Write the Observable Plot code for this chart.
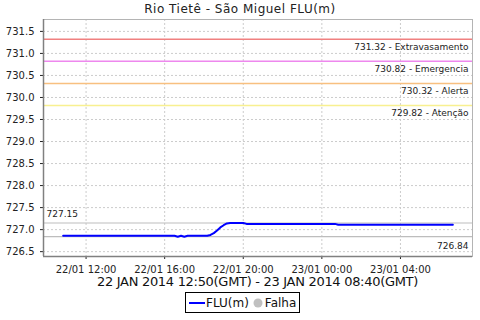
<!DOCTYPE html>
<html><head><meta charset="utf-8">
<script src="https://cdn.jsdelivr.net/npm/d3@7"></script>
<script src="https://cdn.jsdelivr.net/npm/@observablehq/plot@0.6"></script>
<style>
body{margin:0;background:#fff;font-family:"DejaVu Sans",sans-serif;}
#wrap{width:480px;height:320px;position:relative;overflow:hidden;background:#fff}
#title{position:absolute;top:0;left:0;width:480px;text-align:center;font-size:12px;letter-spacing:0.5px;line-height:18px;color:#222}
#chart{position:absolute;top:18px;left:0}
#sub{position:absolute;top:275px;left:43px;width:429px;text-align:center;font-size:13px;letter-spacing:-0.3px;line-height:14px;color:#111}
#legend{position:absolute;top:292px;left:185px;border:1px solid #000;height:19px;padding:0 3px 0 2px;display:flex;align-items:center;font-size:12px;color:#111;background:#fff}
#legend span{margin-right:4px}
</style></head>
<body><div id="wrap">
<div id="title">Rio Tietê - São Miguel FLU(m)</div>
<div id="chart"></div>
<div id="sub">22 JAN 2014 12:50(GMT) - 23 JAN 2014 08:40(GMT)</div>
<div id="legend"><svg width="18" height="10"><line x1="1" x2="17" y1="5" y2="5" stroke="#0000ff" stroke-width="2"/></svg><span>FLU(m)</span><svg width="12" height="10"><circle cx="5" cy="5" r="4.5" fill="#c0c0c0"/></svg><span style="margin-right:0">Falha</span></div>
</div>
<script>
// Data (times in local BRST, shown on the axis)
const times = ["2014-01-22T10:50","2014-01-22T16:30","2014-01-22T16:40","2014-01-22T16:50","2014-01-22T17:00","2014-01-22T17:10","2014-01-22T18:10","2014-01-22T18:20","2014-01-22T18:30","2014-01-22T18:40","2014-01-22T18:50","2014-01-22T19:00","2014-01-22T19:10","2014-01-22T19:20","2014-01-22T20:00","2014-01-22T20:10","2014-01-23T00:40","2014-01-23T00:50","2014-01-23T06:40"];
const levels = [726.86,726.86,726.84,726.86,726.84,726.86,726.86,726.88,726.92,726.98,727.05,727.10,727.14,727.15,727.15,727.13,727.13,727.11,727.11];
const thresholdValues = [731.32, 730.82, 730.32, 729.82];
const thresholdNames = ["Extravasamento","Emergencia","Alerta","Atenção"];
const thresholdColors = ["#f08080","#ee88ee","#f8c080","#f8f090"];
const maxValue = 727.15, minValue = 726.84;
const xTicks = ["2014-01-22T12:00","2014-01-22T16:00","2014-01-22T20:00","2014-01-23T00:00","2014-01-23T04:00"];
const xDomain = ["2014-01-22T09:50","2014-01-23T07:40"];
const yTicks = [726.5,727.0,727.5,728.0,728.5,729.0,729.5,730.0,730.5,731.0,731.5];
const yDomain = [726.39, 731.77];

const parse = d3.utcParse("%Y-%m-%dT%H:%M");
const data = times.map((t,i)=>({t:parse(t), v:levels[i]}));
const thresholds = thresholdValues.map((v,i)=>({v, name:thresholdNames[i], color:thresholdColors[i]}));
const xd = xDomain.map(parse);

const chart = Plot.plot({
  width:480, height:256, marginLeft:43, marginRight:8, marginTop:1, marginBottom:18,
  style:{fontFamily:"DejaVu Sans, sans-serif", fontSize:"10px", color:"#222", background:"#fff", overflow:"visible"},
  x:{type:"utc", domain:xd, ticks:xTicks.map(parse), tickFormat:d3.utcFormat("%d/%m %H:%M"), tickSize:3, label:null},
  y:{domain:yDomain, ticks:yTicks, tickFormat:d3.format(".1f"), tickSize:3, label:null},
  marks:[
    Plot.gridX(xTicks.map(parse), {stroke:"#cccccc", strokeOpacity:1, strokeDasharray:"2,2"}),
    Plot.gridY(yTicks, {stroke:"#cccccc", strokeOpacity:1, strokeDasharray:"2,2"}),
    Plot.frame({stroke:"#b4b4b4"}),
    ...thresholds.map(d => Plot.ruleY([d.v], {stroke:d.color, strokeOpacity:1, strokeWidth:1.5})),
    Plot.text(thresholds, {y:"v", frameAnchor:"right", text:d=>`${d.v.toFixed(2)} - ${d.name}`, textAnchor:"end", dx:-4, dy:8, fontSize:9, fill:"#222"}),
    Plot.ruleY([maxValue, minValue], {stroke:"#bdbdbd", strokeWidth:1.2}),
    Plot.text([maxValue], {y:d=>d, frameAnchor:"left", text:d=>d.toFixed(2), textAnchor:"start", dx:3, dy:-9, fontSize:9, fill:"#222"}),
    Plot.text([minValue], {y:d=>d, frameAnchor:"right", text:d=>d.toFixed(2), textAnchor:"end", dx:-4, dy:9, fontSize:9, fill:"#222"}),
    Plot.ruleX([xd[0]], {stroke:"#808080", strokeWidth:1.5}),
    Plot.ruleY([yDomain[0]], {stroke:"#808080", strokeWidth:1.5}),
    Plot.line(data, {x:"t", y:"v", stroke:"#0000ff", strokeWidth:2})
  ]
});
document.getElementById("chart").appendChild(chart);
</script>
</body></html>
